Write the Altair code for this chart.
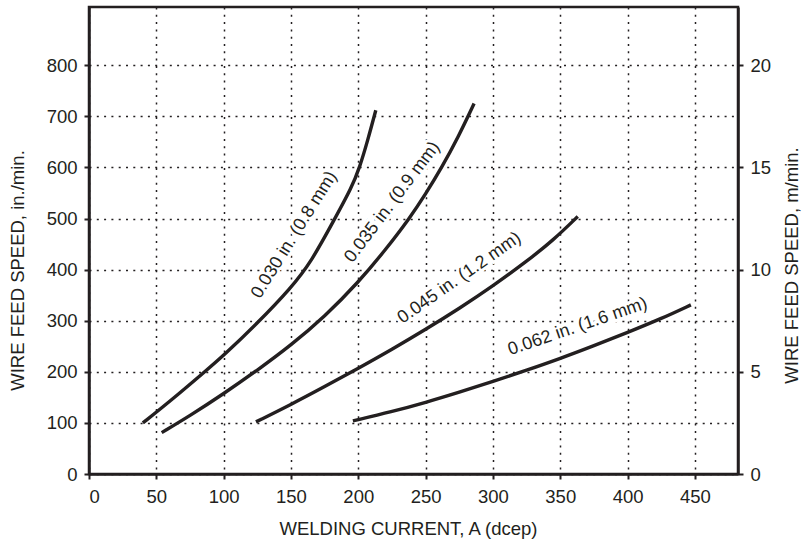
import altair as alt
import pandas as pd

# ---- data ----
wire_labels = ["0.030 in. (0.8 mm)", "0.035 in. (0.9 mm)", "0.045 in. (1.2 mm)", "0.062 in. (1.6 mm)"]

current_030 = [40, 60, 85, 100, 125, 150, 165, 182, 195, 201, 207, 213]
speed_030 = [100, 142, 198, 232, 295, 364, 415, 497, 560, 600, 653, 712]

current_035 = [54, 75, 100, 125, 150, 175, 200, 220, 238, 250, 262, 274, 286]
speed_035 = [81, 114, 157, 203, 252, 308, 375, 438, 500, 548, 600, 658, 725]

current_045 = [124, 150, 175, 200, 225, 250, 275, 300, 325, 345, 363]
speed_045 = [102, 136, 171, 207, 244, 283, 324, 368, 416, 458, 504]

current_062 = [196, 225, 250, 275, 300, 325, 350, 375, 400, 425, 447]
speed_062 = [104, 122, 140, 160, 181, 203, 226, 251, 277, 304, 331]

label_current = [152.5, 225.3, 275.2, 363]
label_speed = [468, 532, 383.5, 288]
label_angle = [302, 307, 325, 341]

x_ticks = [0, 50, 100, 150, 200, 250, 300, 350, 400, 450]
y_ticks = [0, 100, 200, 300, 400, 500, 600, 700, 800]
right_ticks = [0, 5, 10, 15, 20]

X_MAX = 482
Y_MAX = 914
Y_MAX_M = Y_MAX / 40.0

# ---- tables ----
rows = []
for name, cs, ss in zip(wire_labels,
                        [current_030, current_035, current_045, current_062],
                        [speed_030, speed_035, speed_045, speed_062]):
    for c, s in zip(cs, ss):
        rows.append({"wire": name, "current": c, "speed": s})
df_lines = pd.DataFrame(rows)
df_labels = pd.DataFrame({"wire": wire_labels, "current": label_current,
                          "speed": label_speed, "angle": label_angle})
df_right = pd.DataFrame({"m": right_ticks})

INK = "#231f20"
FONT = "Liberation Sans"
FS = 18.5
LFS = 18

xscale = alt.Scale(domain=[0, X_MAX], nice=False, zero=False)
yscale = alt.Scale(domain=[0, Y_MAX], nice=False, zero=False)

x_axis = alt.Axis(values=x_ticks, title="WELDING CURRENT, A (dcep)", grid=True,
                  titleX=319, titleY=54, titleBaseline="middle", titleAlign="center",
                  labelPadding=8)
y_axis = alt.Axis(values=y_ticks, title="WIRE FEED SPEED, in./min.", grid=True,
                  titleAngle=270, titleX=-72, titleY=263, titleBaseline="middle",
                  titleAlign="center", labelPadding=7)

enc_text = dict(
    x=alt.X("current:Q", scale=xscale, axis=x_axis),
    y=alt.Y("speed:Q", scale=yscale, axis=y_axis),
    text="wire:N",
    angle=alt.Angle("angle:Q", scale=None),
)

# white knock-out behind the labels (gridlines are interrupted there)
halo = alt.Chart(df_labels).mark_text(
    color="white", stroke="white", strokeWidth=6, font=FONT, fontSize=LFS,
    align="center", baseline="middle"
).encode(**enc_text)

labels = alt.Chart(df_labels).mark_text(
    color=INK, font=FONT, fontSize=LFS, align="center", baseline="middle"
).encode(**enc_text)

lines = alt.Chart(df_lines).mark_line(
    color=INK, strokeWidth=3.4, interpolate="basis", strokeCap="butt"
).encode(
    x=alt.X("current:Q", scale=xscale, axis=x_axis),
    y=alt.Y("speed:Q", scale=yscale, axis=y_axis),
    detail="wire:N",
)

right = alt.Chart(df_right).mark_point(opacity=0).encode(
    y=alt.Y("m:Q", scale=alt.Scale(domain=[0, Y_MAX_M], nice=False, zero=False),
            axis=alt.Axis(orient="right", values=right_ticks, grid=False,
                          title="WIRE FEED SPEED, m/min.", titleAngle=270,
                          titleX=53, titleY=258, titleBaseline="middle",
                          titleAlign="center", labelPadding=7)),
)

chart = alt.layer(alt.layer(halo, labels, lines), right).resolve_scale(
    y="independent"
).properties(
    width=649, height=467,
    padding={"left": 89, "top": 7, "right": 65, "bottom": 67},
    autosize=alt.AutoSizeParams(type="none"),
    background="white",
).configure_view(
    stroke=INK, strokeWidth=2.5
).configure_axis(
    domainColor=INK, domainWidth=2.5,
    tickColor=INK, tickWidth=2, tickSize=5,
    gridColor=INK, gridWidth=1.5, gridDash=[2, 5.3], gridOpacity=1,
    labelFont=FONT, labelFontSize=FS, labelColor=INK,
    titleFont=FONT, titleFontSize=FS, titleColor=INK, titleFontWeight="normal",
)

chart.save("out.html", embed_options={"renderer": "svg", "actions": False})
